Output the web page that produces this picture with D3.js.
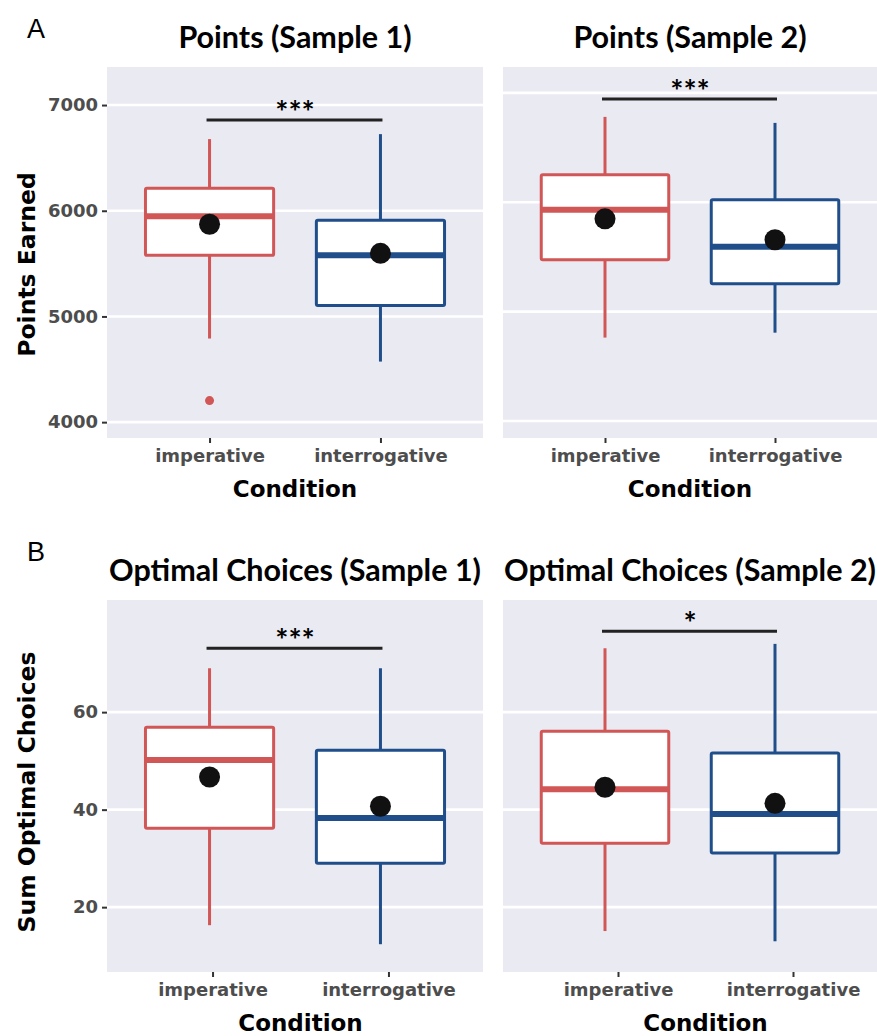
<!DOCTYPE html>
<html>
<head>
<meta charset="utf-8">
<script src="https://cdn.jsdelivr.net/npm/d3@7"></script>
<style>
  body { margin: 0; background: #fff; }
  svg { display: block; }
</style>
</head>
<body>
<svg id="chart" width="877" height="1036"></svg>
<script>
// categories
const conditions = ["imperative", "interrogative"];

// box stats per condition: [whiskerLow, q1, median, q3, whiskerHigh]
const points1Stats = [[4791, 5578, 5948, 6213, 6678], [4573, 5104, 5578, 5910, 6725]];
const points1Means = [5872, 5597];
const points1Outliers = [[4204], []];

const points2Stats = [[4763, 5475, 5932, 6251, 6781], [4808, 5256, 5594, 6023, 6726]];
const points2Means = [5849, 5658];
const points2Outliers = [[], []];

const optimal1Stats = [[16.3, 36.2, 50.2, 56.9, 69.0], [12.4, 29.0, 38.3, 52.2, 69.0]];
const optimal1Means = [46.7, 40.7];
const optimal1Outliers = [[], []];

const optimal2Stats = [[15.1, 33.1, 44.2, 56.1, 73.1], [13.0, 31.1, 39.1, 51.6, 74.0]];
const optimal2Means = [44.6, 41.3];
const optimal2Outliers = [[], []];

// significance brackets
const sigLabels = ["***", "***", "***", "*"];
const sigHeights = [6858, 6945, 73.1, 76.6];

// titles and axes
const titles = ["Points (Sample 1)", "Points (Sample 2)", "Optimal Choices (Sample 1)", "Optimal Choices (Sample 2)"];
const yTitles = ["Points Earned", "Sum Optimal Choices"];
const yDomains = [[3850, 7360], [3845, 7237], [6.7, 83], [6.7, 83]];
const yTicks = [[4000, 5000, 6000, 7000], [4000, 5000, 6000, 7000], [20, 40, 60], [20, 40, 60]];

const colors = ["#d15656", "#1f4e8b"];

const svg = d3.select("#chart");

const panels = [
  { stats: points1Stats, means: points1Means, outliers: points1Outliers, x: 107, y: 67, w: 376, h: 371, axisRange: [0, 376], labels: true, yTitleOffset: 12 },
  { stats: points2Stats, means: points2Means, outliers: points2Outliers, x: 503, y: 67, w: 374, h: 371, axisRange: [0, 374], labels: false },
  { stats: optimal1Stats, means: optimal1Means, outliers: optimal1Outliers, x: 107, y: 600, w: 376, h: 372, axisRange: [0, 387], labels: true, yTitleOffset: 6 },
  { stats: optimal2Stats, means: optimal2Means, outliers: optimal2Outliers, x: 503, y: 600, w: 374, h: 372, axisRange: [10, 395], labels: false }
];

panels.forEach((p, i) => {
  const g = svg.append("g").attr("transform", `translate(${p.x},${p.y})`);

  const x = d3.scalePoint().domain(conditions).range([0, p.w]).padding(0.6);
  const xAxisScale = x.copy().range(p.axisRange);
  const y = d3.scaleLinear().domain(yDomains[i]).range([p.h, 0]);
  const bw = x.step() * 0.75;

  g.append("rect")
    .attr("width", p.w)
    .attr("height", p.h)
    .attr("fill", "#eaeaf2");

  g.selectAll(".grid")
    .data(yTicks[i])
    .join("line")
    .attr("x1", 0)
    .attr("x2", p.w)
    .attr("y1", d => y(d))
    .attr("y2", d => y(d))
    .attr("stroke", "#fff")
    .attr("stroke-width", 2.6);

  // y axis
  const yAxis = g.append("g")
    .call(d3.axisLeft(y).tickValues(yTicks[i]).tickFormat(d3.format("d")).tickSize(5).tickPadding(4));
  yAxis.select(".domain").remove();
  yAxis.selectAll(".tick line").attr("stroke", "#333").attr("stroke-width", 2);
  yAxis.selectAll("text")
    .attr("fill", "#4d4d4d")
    .style("font-family", "DejaVu Sans")
    .style("font-weight", "bold")
    .style("font-size", "18px");
  if (!p.labels) yAxis.remove();

  // x axis
  const xAxis = g.append("g")
    .attr("transform", `translate(0,${p.h})`)
    .call(d3.axisBottom(xAxisScale).tickSize(5).tickPadding(6));
  xAxis.select(".domain").remove();
  xAxis.selectAll(".tick line").attr("stroke", "#333").attr("stroke-width", 2);
  xAxis.selectAll("text")
    .attr("fill", "#4d4d4d")
    .style("font-family", "DejaVu Sans")
    .style("font-weight", "bold")
    .style("font-size", "18px");

  g.append("text")
    .attr("x", (p.axisRange[0] + p.axisRange[1]) / 2)
    .attr("y", p.h + 59)
    .attr("text-anchor", "middle")
    .style("font-family", "DejaVu Sans")
    .style("font-weight", "bold")
    .style("font-size", "23px")
    .text("Condition");

  // title
  g.append("text")
    .attr("x", p.w / 2)
    .attr("y", -19)
    .attr("text-anchor", "middle")
    .style("font-family", "Lato")
    .style("font-weight", "bold")
    .style("font-size", "30.5px")
    .text(titles[i]);

  // boxes
  const box = g.selectAll(".box")
    .data(p.stats)
    .join("g")
    .attr("transform", (d, j) => `translate(${x(conditions[j])},0)`);

  box.append("line")
    .attr("y1", d => y(d[0]))
    .attr("y2", d => y(d[1]))
    .attr("stroke", (d, j) => colors[j])
    .attr("stroke-width", 3);
  box.append("line")
    .attr("y1", d => y(d[3]))
    .attr("y2", d => y(d[4]))
    .attr("stroke", (d, j) => colors[j])
    .attr("stroke-width", 3);
  box.append("rect")
    .attr("x", -bw / 2)
    .attr("width", bw)
    .attr("y", d => y(d[3]))
    .attr("height", d => y(d[1]) - y(d[3]))
    .attr("fill", "#fff")
    .attr("stroke", (d, j) => colors[j])
    .attr("stroke-width", 3)
    .attr("rx", 1.5);
  box.append("line")
    .attr("x1", -bw / 2)
    .attr("x2", bw / 2)
    .attr("y1", d => y(d[2]))
    .attr("y2", d => y(d[2]))
    .attr("stroke", (d, j) => colors[j])
    .attr("stroke-width", 6);

  // outliers
  p.outliers.forEach((arr, j) => {
    g.selectAll(null)
      .data(arr)
      .join("circle")
      .attr("cx", x(conditions[j]))
      .attr("cy", d => y(d))
      .attr("r", 4.5)
      .attr("fill", colors[j]);
  });

  // means
  g.selectAll(".mean")
    .data(p.means)
    .join("circle")
    .attr("cx", (d, j) => x(conditions[j]))
    .attr("cy", d => y(d))
    .attr("r", 10.5)
    .attr("fill", "#111");

  // significance bar
  g.append("line")
    .attr("x1", x(conditions[0]) - 3)
    .attr("x2", x(conditions[1]) + 2)
    .attr("y1", y(sigHeights[i]))
    .attr("y2", y(sigHeights[i]))
    .attr("stroke", "#222")
    .attr("stroke-width", 3);
  g.append("text")
    .attr("x", (x(conditions[0]) + x(conditions[1])) / 2)
    .attr("y", y(sigHeights[i]) + 3)
    .attr("text-anchor", "middle")
    .style("font-family", "Lato")
    .style("font-weight", "bold")
    .style("font-size", "31px")
    .text(sigLabels[i]);

  if (p.labels) {
    g.append("text")
      .attr("transform", `translate(${-72},${p.h / 2 + p.yTitleOffset}) rotate(-90)`)
      .attr("text-anchor", "middle")
      .style("font-family", "DejaVu Sans")
      .style("font-weight", "bold")
      .style("font-size", "23.5px")
      .text(yTitles[i < 2 ? 0 : 1]);
  }
});

// panel letters
svg.selectAll(".letter")
  .data([{ t: "A", y: 38 }, { t: "B", y: 561 }])
  .join("text")
  .attr("x", 27)
  .attr("y", d => d.y)
  .style("font-family", "Liberation Sans")
  .style("font-size", "27px")
  .text(d => d.t);
</script>
</body>
</html>
